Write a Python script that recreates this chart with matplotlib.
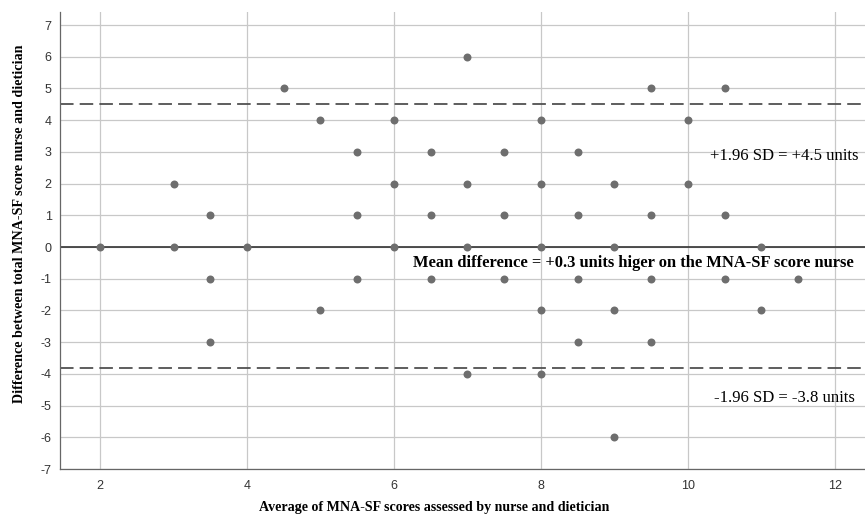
import numpy as np
import matplotlib.pyplot as plt

plt.rcParams['axes.unicode_minus'] = False

# Bland-Altman points: average score (x) vs difference nurse - dietician (y)
avg_score = [2, 3, 3, 3.5, 3.5, 3.5, 4, 4.5, 5, 5,
             5.5, 5.5, 5.5, 6, 6, 6, 6.5, 6.5, 6.5,
             7, 7, 7, 7, 7.5, 7.5, 7.5,
             8, 8, 8, 8, 8, 8.5, 8.5, 8.5, 8.5,
             9, 9, 9, 9, 9.5, 9.5, 9.5, 9.5,
             10, 10, 10.5, 10.5, 10.5, 11, 11, 11.5]
diff_score = [0, 2, 0, 1, -1, -3, 0, 5, 4, -2,
              3, 1, -1, 4, 2, 0, 3, 1, -1,
              6, 2, 0, -4, 3, 1, -1,
              4, 2, 0, -2, -4, 3, 1, -1, -3,
              2, 0, -2, -6, 5, 1, -1, -3,
              4, 2, 5, 1, -1, 0, -2, -1]

mean_line = 0
upper_loa = 4.5
lower_loa = -3.8

x_ticks = [2, 4, 6, 8, 10, 12]
y_ticks = list(range(-7, 8))

fig = plt.figure(figsize=(8.65, 5.19), dpi=100)
ax = fig.add_axes([60/865, 1 - 469/519, 1 - 60/865, (469 - 12)/519])

ax.set_xlim(1.455, 12.41)
ax.set_ylim(-7, 7.41)
ax.set_xticks(x_ticks)
ax.set_yticks(y_ticks)
ax.grid(True, color='#c8c8c8', linewidth=0.9)
ax.set_axisbelow(True)

for s in ['top', 'right']:
    ax.spines[s].set_visible(False)
for s in ['left', 'bottom']:
    ax.spines[s].set_color('#666666')
    ax.spines[s].set_linewidth(0.9)

ax.tick_params(length=0, labelsize=9, labelcolor='#333333', labelfontfamily='Liberation Sans')
ax.tick_params(axis='y', pad=6)
ax.tick_params(axis='x', pad=8)

ax.axhline(mean_line, color='#333333', linewidth=1.2)
ax.axhline(upper_loa, color='#505050', linewidth=1.3, dashes=(7.5, 3.4))
ax.axhline(lower_loa, color='#505050', linewidth=1.3, dashes=(7.5, 3.4))

ax.scatter(avg_score, diff_score, s=33, color='#6e6e6e', zorder=3, linewidths=0)

serif = 'Liberation Serif'
ax.text(10.30, 2.87, '+1.96 SD = +4.5 units', fontsize=12, family=serif, va='center')
ax.text(6.26, -0.50, 'Mean difference = +0.3 units higer on the MNA-SF score nurse',
        fontsize=11.9, family=serif, weight='bold', va='center')
ax.text(10.35, -4.76, '-1.96 SD = -3.8 units', fontsize=12, family=serif, va='center')

fig.text(434/865, 1 - 507/519, 'Average of MNA-SF scores assessed by nurse and dietician',
         fontsize=10.1, family=serif, weight='bold', ha='center', va='center')
fig.text(20/865, 1 - 224/519, 'Difference between total MNA-SF score nurse and dietician',
         fontsize=10.2, family=serif, weight='bold', ha='center', va='center', rotation=90)

fig.savefig('out.png', dpi=100)
